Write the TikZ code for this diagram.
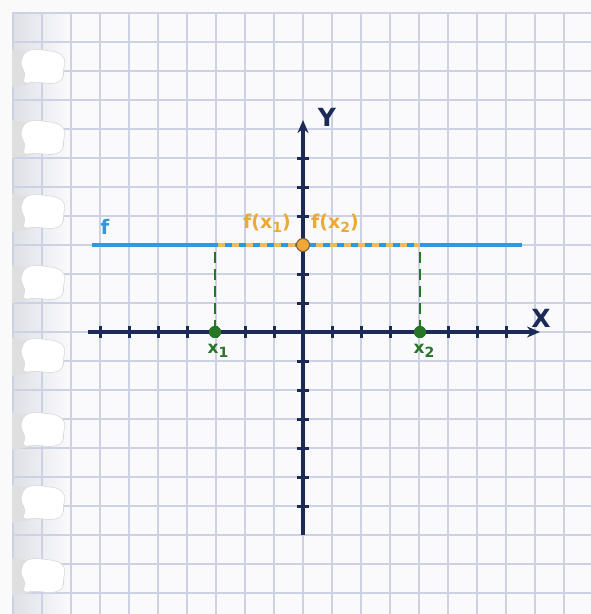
\documentclass[tikz,border=0pt]{standalone}
\usepackage{fontspec}
\setmainfont{DejaVu Sans}
\usetikzlibrary{arrows.meta}
\definecolor{navy}{RGB}{28,42,88}
\definecolor{fblue}{RGB}{48,152,222}
\definecolor{forange}{RGB}{240,168,52}
\definecolor{fgreen}{RGB}{38,118,40}
\definecolor{gridc}{RGB}{204,209,228}
\definecolor{paperl}{RGB}{222,224,230}
\definecolor{paperw}{RGB}{250,250,253}
\newcommand{\lowdig}[1]{\raisebox{-0.22em}{\fontsize{14}{14}\selectfont #1}}
\tikzset{
  axisline/.style={draw=navy, line width=3.4pt, -{Stealth[length=13pt,width=11pt]}},
  tickmark/.style={draw=navy, line width=3pt},
  gridline/.style={draw=gridc, line width=1.1pt},
  fline/.style={draw=fblue, line width=3.4pt},
  odash/.style={draw=forange!80!white, line width=3.4pt, dash pattern=on 7pt off 7pt},
  gdash/.style={draw=fgreen, line width=2.4pt, dash pattern=on 11pt off 6pt},
  gdot/.style={circle, fill=fgreen, inner sep=0pt, minimum size=12pt},
  odot/.style={circle, fill=forange, draw=navy!60!forange, line width=1pt, inner sep=0pt, minimum size=13pt},
  axlabel/.style={text=navy, font=\bfseries\fontsize{25}{25}\selectfont},
  olabel/.style={text=forange, font=\bfseries\fontsize{19}{19}\selectfont},
  glabel/.style={text=fgreen, font=\bfseries\fontsize{17}{17}\selectfont},
  hole/.style={fill=white, draw=gray!30, line width=0.6pt, rounded corners=5pt},
}
\begin{document}
\begin{tikzpicture}[x=1pt,y=-1pt]
\useasboundingbox (0,0) rectangle (591,614);
% paper
\fill[white!96!gray] (0,0) rectangle (591,614);
\fill[paperw] (12,12) rectangle (591,614);
\shade[left color=paperl, right color=paperw] (12,12) rectangle (70,614);
% grid
\foreach \k in {-10,...,10} {
  \pgfmathsetmacro{\gx}{303+29*\k}
  \draw[gridline] (\gx,12) -- (\gx,614);
}
\foreach \k in {-11,...,10} {
  \pgfmathsetmacro{\gy}{332+29*\k}
  \draw[gridline] (12,\gy) -- (591,\gy);
}
% holes
\foreach \hy in {67,138,212,283,356,430,503,576} {
  \fill[gray!25] (12,\hy-18) -- (30,\hy-15) -- (30,\hy+17) -- (12,\hy+20) -- cycle;
  \path[hole] (24,\hy-15) -- (34,\hy-18) -- (58,\hy-15) -- (66,\hy-8) -- (63,\hy+4) -- (64,\hy+12) -- (54,\hy+17) -- (34,\hy+15) -- (22,\hy+17) -- (26,\hy+6) -- (20,\hy-2) -- cycle;
}
% f line
\coordinate (fl) at (92,245);
\coordinate (fr) at (522,245);
\draw[fline] (fl) -- (fr);
\coordinate (fx1) at (218,245);
\coordinate (fx2) at (420,245);
\draw[odash] (fx1) -- (fx2);
% axes
\coordinate (xl) at (88,332);
\coordinate (xr) at (540,332);
\coordinate (yb) at (303,535);
\coordinate (yt) at (303,120);
\draw[axisline] (xl) -- (xr);
\draw[axisline] (yb) -- (yt);
\foreach \k in {-7,...,-1,1,2,...,7} {
  \draw[tickmark] (303+29*\k,326) -- (303+29*\k,338);
}
\foreach \k in {-6,...,-1,1,2,...,6} {
  \draw[tickmark] (297,332+29*\k) -- (309,332+29*\k);
}
% dashed verticals
\coordinate (v1t) at (215,252);
\coordinate (v2t) at (420,252);
\node[gdot] (x1) at (215,332) {};
\node[gdot] (x2) at (420,332) {};
\draw[gdash] (v1t) -- (x1.center);
\draw[gdash] (v2t) -- (x2.center);
\node[gdot] at (215,332) {};
\node[gdot] at (420,332) {};
\node[odot] (fp) at (303,245) {};
% labels
\node[axlabel] (lx) at (541,318) {X};
\node[axlabel] (ly) at (327,117) {Y};
\node[text=fblue, font=\bfseries\fontsize{20}{20}\selectfont] (lf) at (105,227) {f};
\node[olabel] (lfx1) at (267,223) {f(x\lowdig{1})};
\node[olabel] (lfx2) at (335,223) {f(x\lowdig{2})};
\node[glabel] (lx1) at (218,351) {x\lowdig{1}};
\node[glabel] (lx2) at (424,351) {x\lowdig{2}};
\end{tikzpicture}
\end{document}
